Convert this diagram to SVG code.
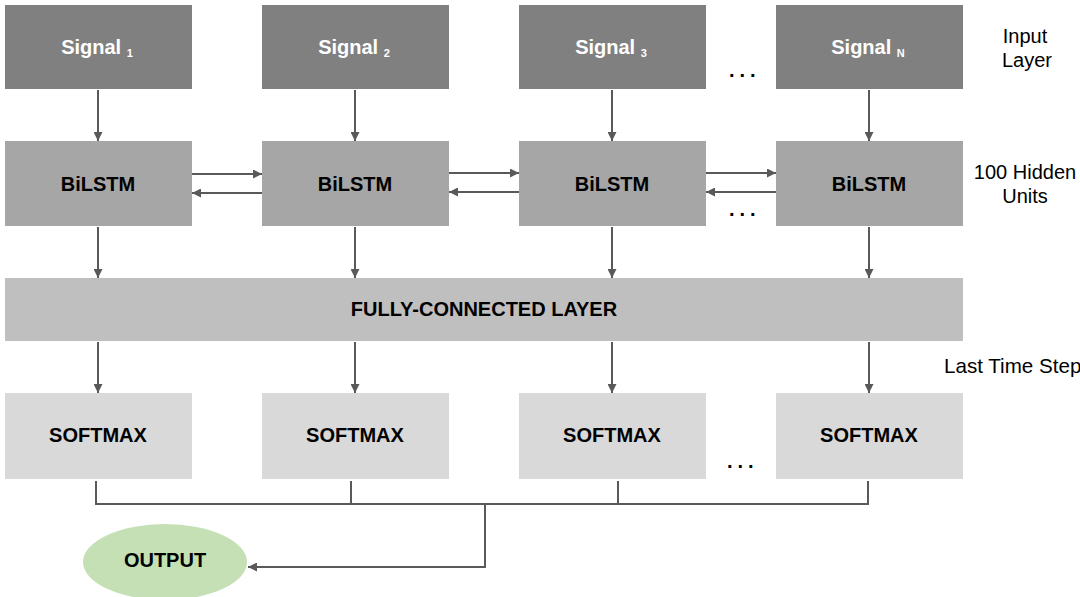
<svg xmlns="http://www.w3.org/2000/svg" width="1080" height="597" viewBox="0 0 1080 597">
<defs>
<marker id="ah" viewBox="0 0 10 10" refX="10" refY="5" markerWidth="4.5" markerHeight="4.5" markerUnits="strokeWidth" orient="auto">
<path d="M0,0 L10,5 L0,10 z" fill="#595959"/>
</marker>
</defs>
<style>
.sig{fill:#808080}
.bil{fill:#a6a6a6}
.fc{fill:#bfbfbf}
.sm{fill:#d9d9d9}
.out{fill:#c5e0b4}
.t{font-family:"Liberation Sans",Arial,sans-serif;font-size:20px;font-weight:bold;fill:#000;text-anchor:middle}
.tw{font-family:"Liberation Sans",Arial,sans-serif;font-size:20px;font-weight:bold;fill:#fff;text-anchor:middle}
.lbl{font-family:"Liberation Sans",Arial,sans-serif;font-size:20px;fill:#000;text-anchor:middle}
.dots{font-family:"Liberation Sans",Arial,sans-serif;font-size:20px;font-weight:bold;fill:#000;letter-spacing:5px}
.c{stroke:#595959;stroke-width:2;fill:none}
.ca{stroke:#595959;stroke-width:2;fill:none;marker-end:url(#ah)}
</style>
<rect width="1080" height="597" fill="#fff"/>

<g id="signal1"><rect class="sig" x="5" y="5" width="187" height="84"/><text class="tw" x="97" y="54">Signal <tspan font-size="11" dy="3">1</tspan></text></g>
<g id="signal2"><rect class="sig" x="262" y="5" width="187" height="84"/><text class="tw" x="354" y="54">Signal <tspan font-size="11" dy="3">2</tspan></text></g>
<g id="signal3"><rect class="sig" x="519" y="5" width="187" height="84"/><text class="tw" x="611" y="54">Signal <tspan font-size="11" dy="3">3</tspan></text></g>
<g id="signalN"><rect class="sig" x="776" y="5" width="187" height="84"/><text class="tw" x="868" y="54">Signal <tspan font-size="11" dy="3">N</tspan></text></g>

<g id="bilstm1"><rect class="bil" x="5" y="141" width="187" height="85"/><text class="t" x="98" y="191">BiLSTM</text></g>
<g id="bilstm2"><rect class="bil" x="262" y="141" width="187" height="85"/><text class="t" x="355" y="191">BiLSTM</text></g>
<g id="bilstm3"><rect class="bil" x="519" y="141" width="187" height="85"/><text class="t" x="612" y="191">BiLSTM</text></g>
<g id="bilstm4"><rect class="bil" x="776" y="141" width="187" height="85"/><text class="t" x="869" y="191">BiLSTM</text></g>

<g id="fc"><rect class="fc" x="5" y="278" width="958" height="63"/><text class="t" x="484" y="316">FULLY-CONNECTED LAYER</text></g>

<g id="softmax1"><rect class="sm" x="5" y="393" width="187" height="86"/><text class="t" x="98" y="442">SOFTMAX</text></g>
<g id="softmax2"><rect class="sm" x="262" y="393" width="187" height="86"/><text class="t" x="355" y="442">SOFTMAX</text></g>
<g id="softmax3"><rect class="sm" x="519" y="393" width="187" height="86"/><text class="t" x="612" y="442">SOFTMAX</text></g>
<g id="softmax4"><rect class="sm" x="776" y="393" width="187" height="86"/><text class="t" x="869" y="442">SOFTMAX</text></g>

<g id="output"><ellipse class="out" cx="165" cy="562" rx="82" ry="38"/><text class="t" x="165" y="567">OUTPUT</text></g>

<g id="dots">
<text class="dots" x="729" y="77">...</text>
<text class="dots" x="729" y="216">...</text>
<text class="dots" x="727" y="468">...</text>
</g>

<g id="labels">
<text class="lbl" x="1025" y="43">Input</text>
<text class="lbl" x="1027" y="67">Layer</text>
<text class="lbl" x="1025" y="179">100 Hidden</text>
<text class="lbl" x="1025" y="203">Units</text>
<text class="lbl" x="944" y="373" style="text-anchor:start;font-size:20.6px">Last Time Step</text>
</g>

<g id="connectors">
<line class="ca" x1="98" y1="90" x2="98" y2="141"/>
<line class="ca" x1="355" y1="90" x2="355" y2="141"/>
<line class="ca" x1="612" y1="90" x2="612" y2="141"/>
<line class="ca" x1="869" y1="90" x2="869" y2="141"/>

<line class="ca" x1="192" y1="174" x2="262" y2="174"/>
<line class="ca" x1="262" y1="193" x2="192" y2="193"/>
<line class="ca" x1="449" y1="173" x2="519" y2="173"/>
<line class="ca" x1="519" y1="192" x2="449" y2="192"/>
<line class="ca" x1="706" y1="173" x2="776" y2="173"/>
<line class="ca" x1="776" y1="192" x2="706" y2="192"/>

<line class="ca" x1="98" y1="227" x2="98" y2="278"/>
<line class="ca" x1="355" y1="227" x2="355" y2="278"/>
<line class="ca" x1="612" y1="227" x2="612" y2="278"/>
<line class="ca" x1="869" y1="227" x2="869" y2="278"/>

<line class="ca" x1="98" y1="342" x2="98" y2="393"/>
<line class="ca" x1="355" y1="342" x2="355" y2="393"/>
<line class="ca" x1="612" y1="342" x2="612" y2="393"/>
<line class="ca" x1="869" y1="342" x2="869" y2="393"/>

<path class="c" d="M96,481 V504 H868 V481"/>
<line class="c" x1="351" y1="481" x2="351" y2="504"/>
<line class="c" x1="618" y1="481" x2="618" y2="504"/>
<path class="ca" d="M485,504 V567 H248"/>
</g>
</svg>
